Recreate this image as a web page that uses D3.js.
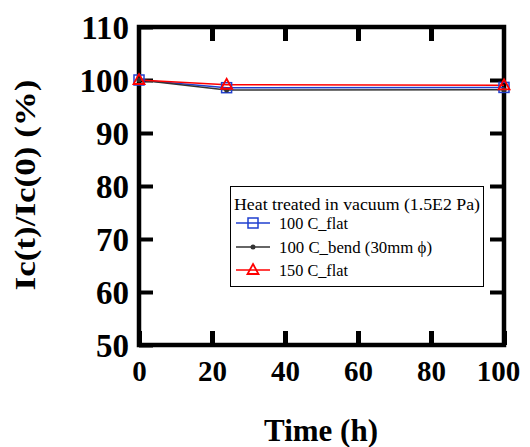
<!DOCTYPE html>
<html><head><meta charset="utf-8">
<script src="https://cdn.jsdelivr.net/npm/d3@7"></script>
<style>body{margin:0;background:#fff}svg{display:block}
svg text{font-family:"Liberation Serif","Times New Roman",Times,Tinos,serif}</style>
</head><body>
<svg id="c" width="530" height="447"></svg>
<script>
const hours = [0, 24, 100];
const flat100 = [100, 98.55, 98.6];
const bend100 = [100, 98.1, 98.15];
const flat150 = [100, 99.1, 99.0];
const xTicks = [0, 20, 40, 60, 80, 100];
const yTicks = [50, 60, 70, 80, 90, 100, 110];
const legendTitle = "Heat treated in vacuum (1.5E2 Pa)";
const seriesNames = ["100 C_flat", "100 C_bend  (30mm \u03d5)", "150 C_flat"];

const svg = d3.select("#c");
const L = 139, R = 504, T = 27, B = 345;
const x = d3.scaleLinear().domain([0, 100]).range([L, R]);
const y = d3.scaleLinear().domain([50, 110]).range([B, T]);

function styleAxis(g, showLabels) {
  g.select(".domain").remove();
  g.selectAll(".tick line").attr("stroke", "#000").attr("stroke-width", 5);
  if (!showLabels) g.selectAll(".tick text").remove();
  g.attr("font-family", null).attr("font-size", null);
}
// bottom
svg.append("g").attr("transform", `translate(0,${B})`)
  .call(d3.axisBottom(x).tickValues(xTicks).tickSizeInner(-14).tickSizeOuter(0).tickPadding(0).tickFormat(d3.format("d")))
  .call(g => { styleAxis(g, true);
    g.selectAll(".tick text").attr("font-weight", "bold").attr("font-size", 29)
      .attr("fill", "#000").attr("dy", null).attr("y", 36).attr("text-anchor", "middle")
      .attr("x", d => d === 100 ? -6 : 0); });
// top
svg.append("g").attr("transform", `translate(0,${T})`)
  .call(d3.axisTop(x).tickValues(xTicks.slice(1, -1)).tickSizeInner(-14).tickSizeOuter(0))
  .call(g => styleAxis(g, false));
// left
svg.append("g").attr("transform", `translate(${L},0)`)
  .call(d3.axisLeft(y).tickValues(yTicks).tickSizeInner(-14).tickSizeOuter(0).tickPadding(0).tickFormat(d3.format("d")))
  .call(g => { styleAxis(g, true);
    g.selectAll(".tick line").attr("stroke-width", 4);
    g.selectAll(".tick text").attr("font-weight", "bold").attr("font-size", 33)
      .attr("fill", "#000").attr("x", -10).attr("dy", null).attr("y", 11).attr("text-anchor", "end"); });
// right
svg.append("g").attr("transform", `translate(${R},0)`)
  .call(d3.axisRight(y).tickValues(yTicks.slice(1, -1)).tickSizeInner(-14).tickSizeOuter(0))
  .call(g => { styleAxis(g, false); g.selectAll(".tick line").attr("stroke-width", 4); });

// frame
svg.append("rect").attr("x", L).attr("y", T).attr("width", R - L).attr("height", B - T)
  .attr("fill", "none").attr("stroke", "#000").attr("stroke-width", 4.5);

// axis titles
svg.append("text").attr("x", 321).attr("y", 441).attr("text-anchor", "middle")
  .attr("font-weight", "bold").attr("font-size", 31).text("Time (h)");
svg.append("text").attr("transform", `translate(35,185) rotate(-90)`).attr("text-anchor", "middle")
  .attr("font-weight", "bold").attr("font-size", 30)
  .attr("textLength", 211).attr("lengthAdjust", "spacingAndGlyphs").text("Ic(t)/Ic(0)  (%)");

const series = [
  { vals: flat100, color: "#1f3fcf", marker: "square" },
  { vals: bend100, color: "#333333", marker: "dot" },
  { vals: flat150, color: "#ff0000", marker: "tri" }
];
const line = d3.line().x((d, i) => x(hours[i])).y(d => y(d));
function drawMarker(g, type, color) {
  if (type === "square") g.append("rect").attr("x", -5).attr("y", -5).attr("width", 10).attr("height", 10)
    .attr("fill", "none").attr("stroke", color).attr("stroke-width", 1.5);
  else if (type === "dot") g.append("circle").attr("r", 2.5).attr("fill", color);
  else g.append("path").attr("d", "M0,-6L5.5,4L-5.5,4Z").attr("fill", "none").attr("stroke", color).attr("stroke-width", 1.8);
}
series.forEach(s => {
  svg.append("path").datum(s.vals).attr("d", line).attr("fill", "none").attr("stroke", s.color).attr("stroke-width", 1.5);
});
series.forEach(s => {
  s.vals.forEach((v, i) => {
    const g = svg.append("g").attr("transform", `translate(${x(hours[i])},${y(v)})`);
    drawMarker(g, s.marker, s.color);
  });
});

// legend
const lg = svg.append("g");
lg.append("rect").attr("x", 230.5).attr("y", 186.5).attr("width", 253).attr("height", 100)
  .attr("fill", "#fff").attr("stroke", "#000").attr("stroke-width", 1);
lg.append("text").attr("x", 234).attr("y", 210).attr("font-size", 17)
  .attr("textLength", 246).attr("lengthAdjust", "spacingAndGlyphs").text(legendTitle);
const rowY = [223, 247, 270];
const rowLen = [69, 153, 69];
series.forEach((s, i) => {
  lg.append("line").attr("x1", 236).attr("x2", 270).attr("y1", rowY[i]).attr("y2", rowY[i])
    .attr("stroke", s.color).attr("stroke-width", 1.5);
  const g = lg.append("g").attr("transform", `translate(253,${rowY[i]})`);
  drawMarker(g, s.marker, s.color);
  lg.append("text").attr("x", 279).attr("y", rowY[i] + 6).attr("font-size", 17)
    .attr("textLength", rowLen[i]).attr("lengthAdjust", "spacingAndGlyphs").text(seriesNames[i]);
});
</script>
</body></html>
